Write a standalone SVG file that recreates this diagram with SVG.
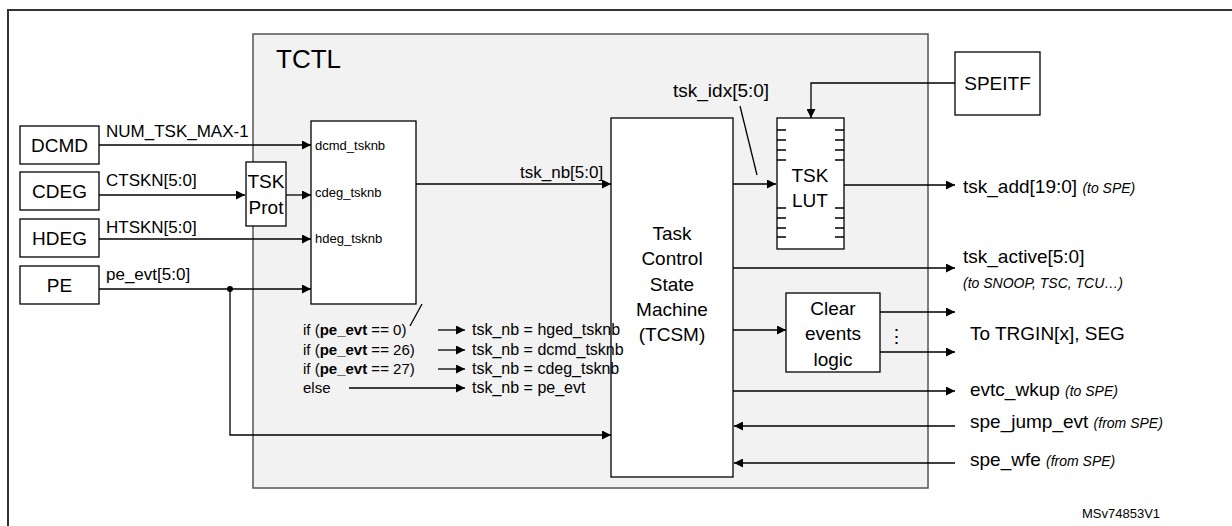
<svg xmlns="http://www.w3.org/2000/svg" width="1232" height="526" viewBox="0 0 1232 526">
<defs>
<marker id="ah" viewBox="0 0 10 10" refX="10" refY="5" markerWidth="11" markerHeight="9" markerUnits="userSpaceOnUse" orient="auto"><path d="M0,0L10,5L0,10z" fill="#000"/></marker>
<style>
text{font-family:"Liberation Sans",Arial,sans-serif;fill:#000}
.b{fill:#fff;stroke:#000;stroke-width:1.3}
.l{stroke:#000;stroke-width:1.3;fill:none}
.a{stroke:#000;stroke-width:1.3;fill:none;marker-end:url(#ah)}
.n{font-size:19px}
.s{font-size:17px}
.r{font-size:19px}
.m{font-size:13px}
.p{font-size:16px}
.q{font-size:15px}
.i{font-size:14px;font-style:italic}
.c{text-anchor:middle}
</style>
</defs>
<rect x="8" y="10" width="1240" height="530" fill="#fff" stroke="#333" stroke-width="2"/>
<g id="tctl"><rect x="253" y="34" width="675" height="454" fill="#f2f2f2" stroke="#555" stroke-width="1.5"/><text x="276" y="68" font-size="26">TCTL</text></g>
<g id="dcmd"><rect class="b" x="20" y="126" width="79" height="38"/><text class="n c" x="59.5" y="152">DCMD</text></g>
<g id="cdeg"><rect class="b" x="20" y="172" width="79" height="38"/><text class="n c" x="59.5" y="198">CDEG</text></g>
<g id="hdeg"><rect class="b" x="20" y="219" width="79" height="38"/><text class="n c" x="59.5" y="245">HDEG</text></g>
<g id="pe"><rect class="b" x="20" y="266" width="79" height="38"/><text class="n c" x="59.5" y="292">PE</text></g>
<g id="tskprot"><rect class="b" x="246" y="162" width="40" height="64"/><text class="n c" x="266" y="188">TSK</text><text class="n c" x="266" y="214">Prot</text></g>
<g id="mux"><rect class="b" x="311" y="121" width="105" height="183"/>
<text class="m" x="315" y="150">dcmd_tsknb</text><text class="m" x="315" y="197">cdeg_tsknb</text><text class="m" x="315" y="243">hdeg_tsknb</text></g>
<g id="tcsm"><rect class="b" x="611" y="118" width="122" height="359"/>
<text class="n c" x="672" y="240">Task</text><text class="n c" x="672" y="265">Control</text><text class="n c" x="672" y="291">State</text><text class="n c" x="672" y="316">Machine</text><text class="n c" x="672" y="341">(TCSM)</text></g>
<g id="tsklut"><rect class="b" x="777" y="118" width="67" height="131"/>
<path class="l" d="M777,130h9M777,140h9M777,150h9M777,160h9M777,208h9M777,218h9M777,228h9M777,237h9M835,130h9M835,140h9M835,150h9M835,160h9M835,208h9M835,218h9M835,228h9M835,237h9"/>
<text class="n c" x="810" y="182">TSK</text><text class="n c" x="810" y="207">LUT</text></g>
<g id="speitf"><rect class="b" x="955" y="52" width="85" height="63"/><text class="n c" x="997.5" y="90">SPEITF</text></g>
<g id="clear"><rect class="b" x="786" y="293" width="94" height="79"/><text class="n c" x="833" y="315">Clear</text><text class="n c" x="833" y="340">events</text><text class="n c" x="833" y="366">logic</text></g>
<g id="connectors">
<path class="a" d="M99,145H311"/><path class="a" d="M99,195H245"/><path class="a" d="M286,195H311"/>
<path class="a" d="M99,239H311"/><path class="a" d="M99,289H311"/>
<circle cx="230" cy="289" r="3"/>
<path class="a" d="M230,289V435H611"/>
<path class="a" d="M416,184H611"/>
<path class="l" d="M422,304L410,326"/>
<path class="a" d="M438,330H465"/><path class="a" d="M438,350H465"/><path class="a" d="M438,369H465"/><path class="a" d="M349,388H465"/>
<path class="a" d="M733,184H776"/>
<path class="l" d="M740,106L757,175"/>
<path class="a" d="M955,83H811V118"/>
<path class="a" d="M844,185H955"/>
<path class="a" d="M733,268H955"/>
<path class="a" d="M733,330H786"/>
<path class="a" d="M880,312H955"/><path class="a" d="M880,352H955"/>
<path class="a" d="M733,391H955"/>
<path class="a" d="M955,426H734"/>
<path class="a" d="M955,463H734"/>
</g>
<g id="labels">
<text class="s" x="106" y="137">NUM_TSK_MAX-1</text>
<text class="s" x="106" y="186">CTSKN[5:0]</text>
<text class="s" x="106" y="233">HTSKN[5:0]</text>
<text class="s" x="106" y="280">pe_evt[5:0]</text>
<text class="s" x="520" y="178">tsk_nb[5:0]</text>
<text class="r" x="673" y="97">tsk_idx[5:0]</text>
<text class="q" x="303" y="335">if (<tspan font-weight="bold">pe_evt</tspan> == 0)</text>
<text class="q" x="303" y="355">if (<tspan font-weight="bold">pe_evt</tspan> == 26)</text>
<text class="q" x="303" y="374">if (<tspan font-weight="bold">pe_evt</tspan> == 27)</text>
<text class="q" x="303" y="393">else</text>
<text class="p" x="472" y="335">tsk_nb = hged_tsknb</text>
<text class="p" x="472" y="355">tsk_nb = dcmd_tsknb</text>
<text class="p" x="472" y="374">tsk_nb = cdeg_tsknb</text>
<text class="p" x="472" y="393">tsk_nb = pe_evt</text>
<text class="r" x="963" y="193">tsk_add[19:0] <tspan class="i">(to SPE)</tspan></text>
<text class="r" x="963" y="263">tsk_active[5:0]</text>
<text class="i" x="963" y="288">(to SNOOP, TSC, TCU…)</text>
<text x="896" y="343" font-size="19" class="c">⋮</text>
<text class="n" x="970" y="340">To TRGIN[x], SEG</text>
<text class="r" x="970" y="396">evtc_wkup <tspan class="i">(to SPE)</tspan></text>
<text class="r" x="970" y="428">spe_jump_evt <tspan class="i">(from SPE)</tspan></text>
<text class="r" x="970" y="466">spe_wfe <tspan class="i">(from SPE)</tspan></text>
<text x="1082" y="518" font-size="13">MSv74853V1</text>
</g>
</svg>
